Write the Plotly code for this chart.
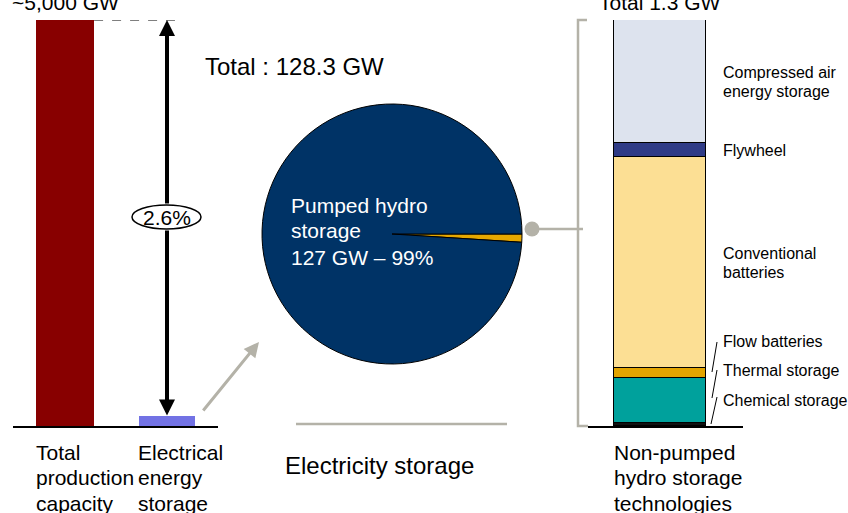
import plotly.graph_objects as go

# ---------------- data ----------------
capacity_categories = ["Total production capacity", "Electrical energy storage"]
capacity_values_gw = [5000, 128.3]
capacity_label_lines = [["Total", "production", "capacity"], ["Electrical", "energy", "storage"]]

storage_labels = ["Other technologies", "Pumped hydro storage"]
storage_values_gw = [1.3, 127]

tech_names = ["Chemical storage", "Thermal storage", "Flow batteries",
              "Conventional batteries", "Flywheel", "Compressed air energy storage"]
tech_values_gw = [0.01, 0.144, 0.032, 0.675, 0.045, 0.394]
tech_label_lines = [["Chemical storage"], ["Thermal storage"], ["Flow batteries"],
                    ["Conventional", "batteries"], ["Flywheel"], ["Compressed air", "energy storage"]]
tech_colors = ["#111111", "#00A19C", "#E2A400", "#FCDF94", "#2F3B86", "#DDE3EE"]
right_label_lines = ["Non-pumped", "hydro storage", "technologies"]

# ---------------- geometry helpers ----------------
W, H = 848, 513
FONT = "Liberation Sans, Arial, sans-serif"
GRAY = "#B4B2A8"


def px(x):
    return x / W


def py(y):
    return 1 - y / H


BASE_Y, TOP_Y = 426, 20

fig = go.Figure()

# ---------------- left bar chart ----------------
fig.add_trace(go.Bar(
    x=capacity_categories, y=capacity_values_gw, width=[0.57, 0.55],
    marker=dict(color=["#880000", "#7272E4"], line=dict(width=0)),
    xaxis="x", yaxis="y", showlegend=False, hoverinfo="x+y"))

# ---------------- pie ----------------
pie_cx, pie_cy, pie_r = 392, 234, 130
fig.add_trace(go.Pie(
    labels=storage_labels, values=storage_values_gw, sort=False,
    direction="counterclockwise", rotation=90,
    marker=dict(colors=["#E6A800", "#003366"], line=dict(color="black", width=1)),
    textinfo="none", showlegend=False,
    domain=dict(x=[px(pie_cx - pie_r), px(pie_cx + pie_r)],
                y=[py(pie_cy + pie_r), py(pie_cy - pie_r)])))

# ---------------- right stacked bar ----------------
for name, val, col in zip(tech_names, tech_values_gw, tech_colors):
    fig.add_trace(go.Bar(
        x=[0], y=[val], width=1, name=name,
        marker=dict(color=col, line=dict(color="black", width=1)),
        xaxis="x2", yaxis="y2", showlegend=False))

hidden = dict(showgrid=False, zeroline=False, showticklabels=False, ticks="", fixedrange=True)
fig.update_layout(
    width=W, height=H, margin=dict(l=0, r=0, t=0, b=0),
    paper_bgcolor="white", plot_bgcolor="rgba(0,0,0,0)",
    barmode="stack", bargap=0,
    font=dict(family=FONT, color="black"),
    xaxis=dict(domain=[px(13), px(218)], range=[-0.51, 1.5], type="category",
               showline=True, linecolor="black", linewidth=1.5, anchor="y", **hidden),
    yaxis=dict(domain=[py(BASE_Y), py(TOP_Y)], range=[0, max(capacity_values_gw)],
               anchor="x", **hidden),
    xaxis2=dict(domain=[px(588), px(743)], range=[-0.783, 0.902],
                showline=True, linecolor="black", linewidth=1.5, anchor="y2", **hidden),
    yaxis2=dict(domain=[py(BASE_Y), py(TOP_Y)], range=[0, sum(tech_values_gw)],
                anchor="x2", **hidden),
)

annotations = []
shapes = []


def text(x, y, s, size, xref="paper", yref="paper", xanchor="left", color="black", yshift=0, xshift=0):
    annotations.append(dict(x=x, y=y, xref=xref, yref=yref, text=s, showarrow=False,
                            xanchor=xanchor, yanchor="middle", yshift=yshift, xshift=xshift,
                            font=dict(size=size, color=color, family=FONT)))


# top labels
text(0, py(2), f"~{capacity_values_gw[0]:,} GW", 21, xref="x", xanchor="center")
total_other = sum(tech_values_gw)
text(0, py(2), f"Total {total_other:.1f} GW", 21, xref="x2", xanchor="center")
total_storage = sum(storage_values_gw)
text(px(203), py(67), f"Total : {total_storage:.1f} GW", 24)

# dashed line at top of the left axis
ymax = capacity_values_gw[0]
shapes.append(dict(type="line", xref="x", yref="y", x0=0.285, x1=1.078, y0=ymax, y1=ymax,
                   line=dict(color="black", width=1, dash="dash")))


def ydata(pix):
    return (BASE_Y - pix) / (BASE_Y - TOP_Y) * ymax


# double arrow split around the ellipse
ell_top, ell_bot = 205, 229
annotations.append(dict(x=1, y=ymax, ax=1, ay=ydata(ell_top), xref="x", yref="y", axref="x", ayref="y",
                        text="", showarrow=True, arrowhead=2, arrowwidth=4, arrowsize=0.8,
                        arrowcolor="black"))
annotations.append(dict(x=1, y=capacity_values_gw[1], ax=1, ay=ydata(ell_bot), xref="x", yref="y",
                        axref="x", ayref="y", text="", showarrow=True, arrowhead=2, arrowwidth=4,
                        arrowsize=0.8, arrowcolor="black"))
shapes.append(dict(type="circle", xref="paper", yref="paper", x0=px(132), x1=px(201),
                   y0=py(ell_bot), y1=py(ell_top), fillcolor="white", line=dict(color="black", width=1.5)))
share = capacity_values_gw[1] / capacity_values_gw[0] * 100
text(px(167), py(217), f"{share:.1f}%", 21, xanchor="center")

# bottom category labels (left chart)
for i, lines in enumerate(capacity_label_lines):
    for j, ln in enumerate(lines):
        text(i - 0.28, py(452 + 25.5 * j), ln, 21, xref="x", xshift=-2)

# gray arrow towards the pie
annotations.append(dict(x=px(259), y=py(342), ax=202 - 259, ay=412 - 342, xref="paper", yref="paper",
                        axref="pixel", ayref="pixel", text="", showarrow=True, arrowhead=2,
                        arrowwidth=3, arrowsize=1, arrowcolor=GRAY))

# pie label
pumped = storage_values_gw[1]
pie_lines = ["Pumped hydro", "storage", f"{pumped:.0f} GW \u2013 {pumped / total_storage * 100:.0f}%"]
for j, ln in enumerate(pie_lines):
    text(px(289), py(205 + 26 * j), ln, 21, color="white")

# gray line under pie and caption
shapes.append(dict(type="line", xref="paper", yref="paper", x0=px(296), x1=px(507), y0=py(424), y1=py(424),
                   line=dict(color=GRAY, width=2.5)))
text(px(379), py(465), "Electricity storage", 24, xanchor="center")

# connector dot + line to bracket
shapes.append(dict(type="circle", xref="paper", yref="paper", x0=px(524.5), x1=px(539.5),
                   y0=py(236.5), y1=py(221.5), fillcolor=GRAY, line=dict(width=0)))
shapes.append(dict(type="line", xref="paper", yref="paper", x0=px(532), x1=px(583), y0=py(229), y1=py(229),
                   line=dict(color=GRAY, width=2.5)))
# bracket
shapes.append(dict(type="path", xref="paper", yref="paper",
                   path=f"M {px(587)},{py(20)} L {px(578)},{py(20)} L {px(578)},{py(426)} L {px(588)},{py(426)}",
                   line=dict(color=GRAY, width=2.5)))

# right bar labels
cum = 0
for i, (lines, val) in enumerate(zip(tech_label_lines, tech_values_gw)):
    mid = cum + val / 2
    cum += val
    if i >= 3:
        n = len(lines)
        for j, ln in enumerate(lines):
            text(px(721), mid, ln, 16, yref="y2", yshift=-(j - (n - 1) / 2) * 19)

small_pos = {0: 400, 1: 370, 2: 341}
leaders = {0: (717, 397, 711, 424), 1: (717, 370, 712, 398), 2: (717, 342, 712, 372)}
for i in range(3):
    text(px(721), py(small_pos[i]), tech_label_lines[i][0], 16)
    x0, y0, x1, y1 = leaders[i]
    shapes.append(dict(type="line", xref="paper", yref="paper", x0=px(x0), y0=py(y0), x1=px(x1), y1=py(y1),
                       line=dict(color="black", width=1)))

for j, ln in enumerate(right_label_lines):
    text(-0.5, py(452 + 25.5 * j), ln, 21, xref="x2", xshift=-2)

fig.update_layout(annotations=annotations, shapes=shapes)
fig.write_html("out.html", config={"displayModeBar": False},
               post_script="document.body.style.margin='0';document.body.style.overflow='hidden';")
